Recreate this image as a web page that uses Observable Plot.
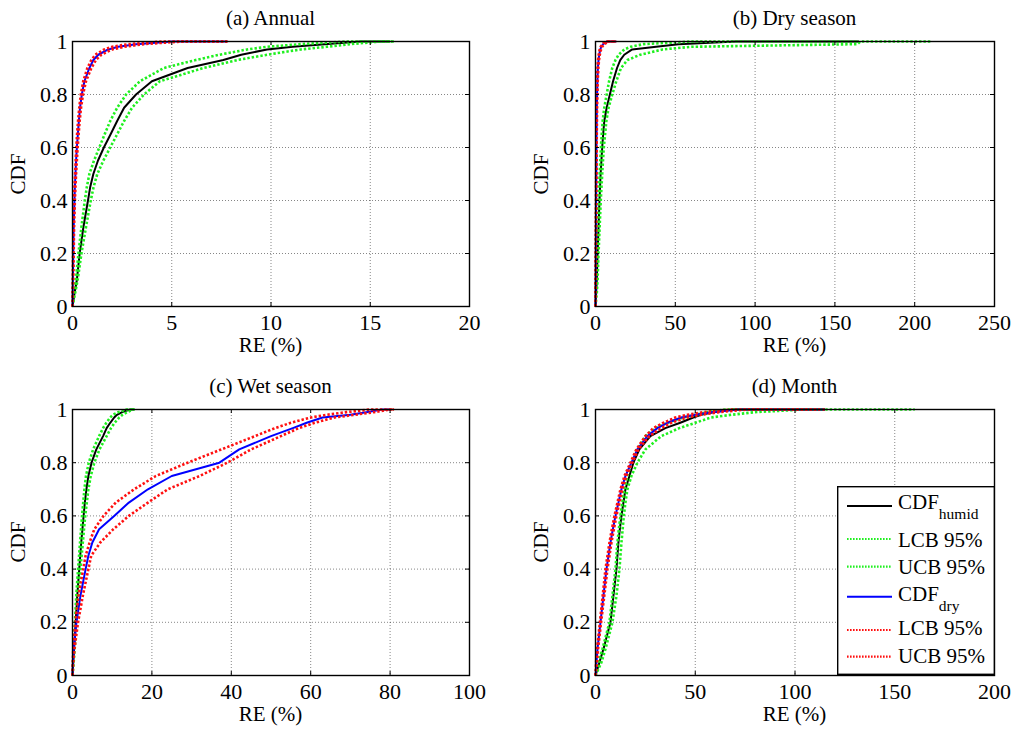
<!DOCTYPE html>
<html><head><meta charset="utf-8">
<script src="https://cdn.jsdelivr.net/npm/d3@7"></script>
<script src="https://cdn.jsdelivr.net/npm/@observablehq/plot@0.6"></script>
<style>
body{margin:0;background:#fff;}
#wrap{position:relative;width:1014px;height:729px;font-family:"Liberation Serif","Times New Roman",serif;color:#000;overflow:hidden;}
.plot{position:absolute;}
#wrap svg.plot text{font-size:22px !important;font-family:"Liberation Serif","Times New Roman",serif !important;fill:#000;}
.title,.xlab{position:absolute;font-size:21px;line-height:21px;white-space:nowrap;transform:translateX(-50%);}
.ylab{position:absolute;font-size:21px;line-height:21px;white-space:nowrap;transform:translate(-50%,-50%) rotate(-90deg);}
#legend{position:absolute;}
</style></head><body><div id="wrap"></div>
<script>
// Shared CDF levels (last entry repeats 1 = end of each curve)
const cdfLevels = [0, 0.05, 0.1, 0.2, 0.3, 0.4, 0.45, 0.5, 0.55, 0.6, 0.65, 0.7, 0.75, 0.8, 0.85, 0.9, 0.93, 0.95, 0.97, 0.98, 0.99, 1, 1];

// (a) Annual — RE (%) at each CDF level
const annualHumid    = [0, 0.1, 0.22, 0.36, 0.55, 0.78, 0.89, 1.05, 1.28, 1.58, 1.92, 2.25, 2.6, 3.2, 4.0, 5.8, 7.6, 8.5, 9.8, 11.1, 12.7, 14.5, 16.0];
const annualHumidLCB = [0, 0.13, 0.26, 0.45, 0.68, 0.92, 1.06, 1.25, 1.55, 1.9, 2.25, 2.6, 3.0, 3.6, 4.4, 6.6, 8.3, 9.8, 11.5, 12.8, 14.0, 15.5, 16.2];
const annualHumidUCB = [0, 0.07, 0.17, 0.3, 0.45, 0.62, 0.72, 0.85, 1.08, 1.35, 1.62, 1.9, 2.25, 2.7, 3.4, 4.6, 6.2, 7.4, 8.8, 9.8, 11.5, 13.8, 16.1];
const annualDry      = [0, 0.01, 0.02, 0.04, 0.06, 0.1, 0.12, 0.15, 0.18, 0.22, 0.27, 0.32, 0.38, 0.47, 0.6, 0.85, 1.05, 1.3, 1.8, 2.3, 3.2, 5.0, 7.8];
const annualDryLCB   = [0, 0.02, 0.04, 0.06, 0.08, 0.12, 0.15, 0.18, 0.22, 0.26, 0.31, 0.36, 0.43, 0.53, 0.68, 0.95, 1.18, 1.45, 2.0, 2.6, 3.6, 5.5, 7.8];
const annualDryUCB   = [0, 0.005, 0.01, 0.03, 0.05, 0.08, 0.1, 0.13, 0.16, 0.19, 0.23, 0.28, 0.34, 0.42, 0.54, 0.75, 0.95, 1.15, 1.6, 2.0, 2.8, 4.5, 7.8];

// (b) Dry season
const drySeasonHumid    = [0, 0.4, 0.8, 1.3, 1.9, 2.5, 2.85, 3.2, 3.7, 4.2, 4.8, 5.5, 7, 9, 11, 13.5, 15.5, 18, 23, 38, 52, 88, 165];
const drySeasonHumidLCB = [0, 0.8, 1.3, 1.9, 2.6, 3.3, 3.75, 4.2, 4.7, 5.2, 6.0, 6.8, 8.2, 10.5, 13, 16, 20, 28, 42, 60, 164, 166, 210];
const drySeasonHumidUCB = [0, 0.2, 0.5, 0.9, 1.4, 2.0, 2.3, 2.6, 3.0, 3.4, 3.9, 4.5, 5.5, 7, 8.5, 10.5, 12.5, 14.5, 18, 22, 30, 60, 165];
const drySeasonDry      = [0, 0.05, 0.1, 0.2, 0.3, 0.4, 0.45, 0.5, 0.55, 0.6, 0.68, 0.75, 0.85, 1, 1.2, 1.5, 1.9, 2.3, 3, 3.6, 4.8, 7, 13];
const drySeasonDryLCB   = [0, 0.08, 0.15, 0.28, 0.4, 0.5, 0.56, 0.62, 0.67, 0.72, 0.8, 0.9, 1.0, 1.2, 1.4, 1.8, 2.2, 2.7, 3.5, 4.2, 5.5, 8, 13];
const drySeasonDryUCB   = [0, 0.03, 0.07, 0.15, 0.22, 0.3, 0.35, 0.4, 0.45, 0.5, 0.56, 0.62, 0.7, 0.85, 1.0, 1.3, 1.6, 2.0, 2.6, 3.2, 4.2, 6.2, 13];

// (c) Wet season
const wetSeasonHumid    = [0, 0.2, 0.4, 0.8, 1.2, 1.7, 1.95, 2.2, 2.5, 2.8, 3.1, 3.5, 4.0, 4.8, 6.0, 7.7, 8.6, 9.5, 10.5, 11.2, 12.5, 14.5, 15.5];
const wetSeasonHumidLCB = [0, 0.3, 0.55, 1.0, 1.5, 2.0, 2.3, 2.6, 2.9, 3.2, 3.6, 4.0, 4.6, 5.5, 6.8, 8.6, 9.7, 10.6, 11.8, 12.6, 13.8, 15.2, 15.8];
const wetSeasonHumidUCB = [0, 0.15, 0.3, 0.6, 0.95, 1.4, 1.65, 1.9, 2.15, 2.4, 2.7, 3.0, 3.4, 4.1, 5.2, 6.7, 7.7, 8.5, 9.5, 10.2, 11.5, 13.5, 15.5];
const wetSeasonDry      = [0, 0.1, 0.3, 1.0, 2.0, 3.3, 4.0, 5.0, 6.7, 10.5, 14.2, 19, 25, 37, 42, 50, 55.5, 59, 63, 70, 74, 78, 80];
const wetSeasonDryLCB   = [0, 0.2, 0.5, 1.4, 2.6, 4.0, 4.7, 7.0, 10.3, 14.2, 19, 24, 32, 39, 45, 52.5, 57, 61, 66, 71, 76, 80, 81];
const wetSeasonDryUCB   = [0, 0.05, 0.2, 0.7, 1.5, 2.7, 3.3, 4.3, 5.5, 7.8, 10.9, 15.5, 21, 29, 37.5, 46, 51, 55, 60, 64, 69, 75, 81];

// (d) Month
const monthHumid    = [0, 2, 4, 7.5, 9, 10.5, 11, 11.5, 12.2, 13, 14, 15, 17, 19, 22, 27.5, 35, 42.5, 49, 53, 59, 69, 115];
const monthHumidLCB = [0, 3, 5, 8.5, 10.5, 12, 12.5, 13, 13.6, 14.2, 15, 16, 18, 21, 25, 33, 42, 50, 58, 68, 80, 105, 160];
const monthHumidUCB = [0, 1.5, 3.5, 7, 8.5, 10, 10.5, 11, 11.7, 12.5, 13.4, 14.5, 16, 18, 21, 25, 30, 36, 44, 50, 56, 65, 115];
const monthDry      = [0, 0.5, 1, 2.5, 4, 5.5, 6.5, 7.5, 8.7, 10, 11.5, 13, 15, 18, 21, 26, 31, 36, 43, 50, 58, 72, 115];
const monthDryLCB   = [0, 0.8, 1.3, 2.8, 4.4, 6, 7, 8, 9.2, 10.5, 12, 13.5, 15.5, 18.5, 21.5, 27, 33, 38, 46, 53, 62, 76, 115];
const monthDryUCB   = [0, 0.3, 0.8, 2.2, 3.6, 5, 6, 7, 8.2, 9.5, 11, 12.5, 14.5, 17.5, 20.5, 25, 29, 34, 40, 46, 54, 68, 112];

// Tick values
const yTicks = [0, 0.2, 0.4, 0.6, 0.8, 1];
const xTicksAnnual = [0, 5, 10, 15, 20];
const xTicksDry = [0, 50, 100, 150, 200, 250];
const xTicksWet = [0, 20, 40, 60, 80, 100];
const xTicksMonth = [0, 50, 100, 150, 200];

// Titles & labels
const panelTitles = ["(a) Annual", "(b) Dry season", "(c) Wet season", "(d) Month"];
const xLabel = "RE (%)";
const yLabel = "CDF";

// Series (legend order = draw order)
const seriesMain = ["CDF", "LCB 95%", "UCB 95%", "CDF", "LCB 95%", "UCB 95%"];
const seriesSub  = ["humid", "", "", "dry", "", ""];

// ---------- styles & layout (not data) ----------
const seriesStyle = [
  {stroke: "#000000", strokeWidth: 2, dash: null},
  {stroke: "#1ff01f", strokeWidth: 2.6, dash: "2.4,2"},
  {stroke: "#1ff01f", strokeWidth: 2.6, dash: "2.4,2"},
  {stroke: "#0000ff", strokeWidth: 2, dash: null},
  {stroke: "#ff1010", strokeWidth: 2.6, dash: "2.4,2"},
  {stroke: "#ff1010", strokeWidth: 2.6, dash: "2.4,2"}
];

const panels = [
  {curves: [annualHumid, annualHumidLCB, annualHumidUCB, annualDry, annualDryLCB, annualDryUCB], xTicks: xTicksAnnual, fx: 72, fy: 41, fw: 397, fh: 265},
  {curves: [drySeasonHumid, drySeasonHumidLCB, drySeasonHumidUCB, drySeasonDry, drySeasonDryLCB, drySeasonDryUCB], xTicks: xTicksDry, fx: 595, fy: 41, fw: 399, fh: 265},
  {curves: [wetSeasonHumid, wetSeasonHumidLCB, wetSeasonHumidUCB, wetSeasonDry, wetSeasonDryLCB, wetSeasonDryUCB], xTicks: xTicksWet, fx: 72, fy: 409, fw: 397, fh: 266},
  {curves: [monthHumid, monthHumidLCB, monthHumidUCB, monthDry, monthDryLCB, monthDryUCB], xTicks: xTicksMonth, fx: 595, fy: 409, fw: 399, fh: 266}
];

const wrap = document.getElementById("wrap");
const mL = 50, mR = 15, mT = 10, mB = 40, tickLen = 4;
const fmt = d => String(+d.toFixed(6));

panels.forEach((p, pi) => {
  const xMax = p.xTicks[p.xTicks.length - 1];
  const gridStyle = {stroke: "#000", strokeOpacity: 0.6, strokeWidth: 0.8, strokeDasharray: "1,2"};
  const lines = p.curves.map((xs, si) => {
    const rows = xs.map((x, j) => ({x, y: cdfLevels[j]}));
    const st = seriesStyle[si];
    return Plot.line(rows, {x: "x", y: "y", stroke: st.stroke, strokeWidth: st.strokeWidth, strokeDasharray: st.dash, strokeLinecap: "butt"});
  });
  const chart = Plot.plot({
    width: mL + p.fw + mR,
    height: mT + p.fh + mB,
    marginLeft: mL, marginRight: mR, marginTop: mT, marginBottom: mB,
    style: {fontFamily: "'Liberation Serif','Times New Roman',serif", fontSize: "22px", background: "transparent", overflow: "visible"},
    x: {domain: [0, xMax]},
    y: {domain: [0, 1]},
    marks: [
      Plot.gridX(p.xTicks, gridStyle),
      Plot.gridY(yTicks, gridStyle),
      ...lines,
      Plot.frame({stroke: "#000", strokeWidth: 1.4}),
      Plot.ruleX(p.xTicks, {stroke: "#000", insetTop: p.fh - tickLen}),
      Plot.ruleX(p.xTicks, {stroke: "#000", insetBottom: p.fh - tickLen}),
      Plot.ruleY(yTicks, {stroke: "#000", insetRight: p.fw - tickLen}),
      Plot.ruleY(yTicks, {stroke: "#000", insetLeft: p.fw - tickLen}),
      Plot.axisX(p.xTicks, {anchor: "bottom", tickSize: 0, tickPadding: 7.5, tickFormat: fmt, label: null, fontSize: 22}),
      Plot.axisY(yTicks, {anchor: "left", tickSize: 0, tickPadding: 5, tickFormat: fmt, label: null, fontSize: 22})
    ]
  });
  chart.classList.add("plot");
  chart.style.left = (p.fx - mL) + "px";
  chart.style.top = (p.fy - mT) + "px";
  wrap.appendChild(chart);

  const cx = p.fx + p.fw / 2;
  const t = document.createElement("div");
  t.className = "title"; t.textContent = panelTitles[pi];
  t.style.left = cx + "px"; t.style.top = (p.fy - 33) + "px";
  wrap.appendChild(t);

  const xl = document.createElement("div");
  xl.className = "xlab"; xl.textContent = xLabel;
  xl.style.left = cx + "px"; xl.style.top = (p.fy + p.fh + 29) + "px";
  wrap.appendChild(xl);

  const yl = document.createElement("div");
  yl.className = "ylab"; yl.textContent = yLabel;
  yl.style.left = (p.fx - 54) + "px"; yl.style.top = (p.fy + p.fh / 2) + "px";
  wrap.appendChild(yl);
});

// Legend in panel (d)
const lg = {x: 837, y: 486, w: 158, h: 189};
const rowLineY = [20, 53, 80.7, 110.7, 144, 170.7];
const rowTextY = [22.5, 60.7, 88, 114.7, 149, 177];
const svg = d3.create("svg").attr("id", "legend").attr("width", lg.w).attr("height", lg.h)
  .style("left", lg.x + "px").style("top", lg.y + "px")
  .style("font-family", "'Liberation Serif','Times New Roman',serif");
svg.append("rect").attr("x", 0.7).attr("y", 0.7).attr("width", lg.w - 1.4).attr("height", lg.h - 1.4)
  .attr("fill", "#fff").attr("stroke", "#000").attr("stroke-width", 1.4);
seriesMain.forEach((m, i) => {
  const st = seriesStyle[i];
  svg.append("line").attr("x1", 10).attr("x2", 55).attr("y1", rowLineY[i]).attr("y2", rowLineY[i])
    .attr("stroke", st.stroke).attr("stroke-width", st.dash ? 2.2 : 2)
    .attr("stroke-dasharray", st.dash ? "1.6,1.4" : null);
  const tx = svg.append("text").attr("x", 61).attr("y", rowTextY[i]).attr("font-size", 21).text(m);
  if (seriesSub[i]) {
    tx.append("tspan").attr("font-size", 15.5).attr("dy", 10.5).text(seriesSub[i]);
  }
});
wrap.appendChild(svg.node());
</script>
</body></html>
